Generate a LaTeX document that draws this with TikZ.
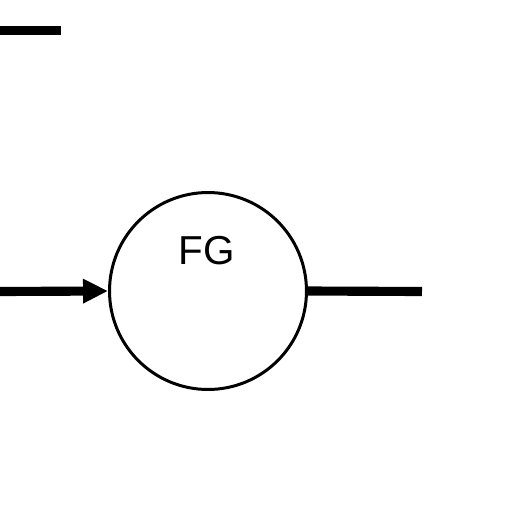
\documentclass[tikz,border=0pt]{standalone}
\usepackage{fontspec}
\setmainfont{Liberation Sans}
\usetikzlibrary{arrows.meta}

\begin{document}
\begin{tikzpicture}[x=0.02cm, y=-0.02cm,
    wire/.style={line width=5.2pt, line cap=butt},
    block/.style={draw, circle, line width=1.7pt, minimum size=3.94cm, inner sep=0pt},
    blocklabel/.style={font=\fontsize{23}{23}\selectfont, inner sep=0pt, anchor=base}]
  \useasboundingbox (0,0) rectangle (512,512);

  % Generator
  \node[block] (fg) at (208,291) {};
  \node[blocklabel] (fgtext) at (207,264) {FG};

  % Free ends
  \coordinate (topa) at (0,30.5);
  \coordinate (topb) at (61,30.5);
  \coordinate (input) at (0,291.5);
  \coordinate (output) at (422,291.5);

  % Short bar
  \draw[wire] (topa) -- (topb);

  % Input and output
  \draw[wire, -{Triangle[length=0.5cm, width=0.46cm]}] (input) -- (fg.west);
  \draw[wire] (fg.east) -- (output);
\end{tikzpicture}
\end{document}
